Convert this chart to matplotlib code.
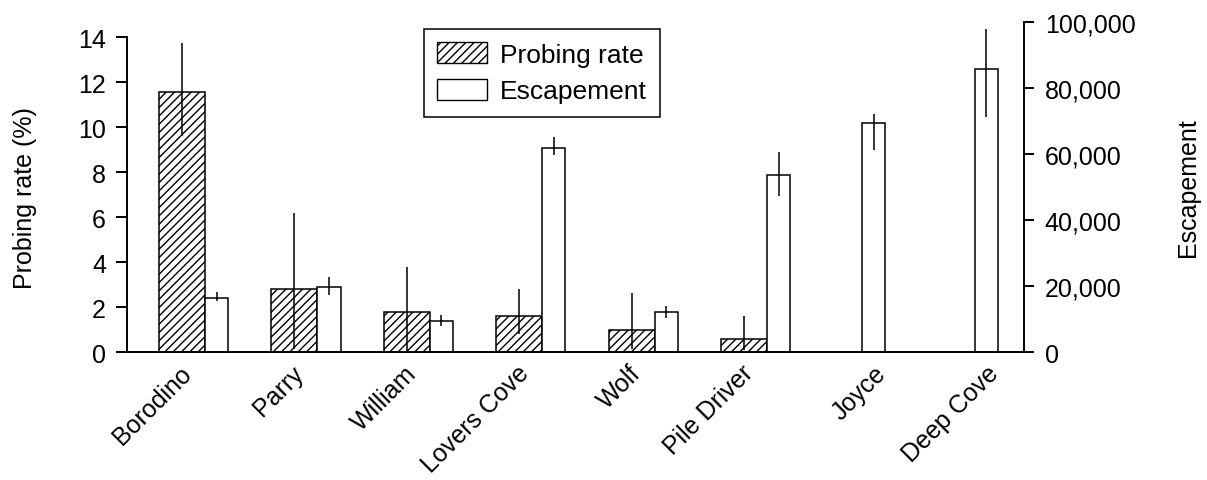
import numpy as np
import matplotlib
matplotlib.use('Agg')
import matplotlib.pyplot as plt
from matplotlib.patches import Patch
from matplotlib.ticker import FuncFormatter

plt.rcParams['font.family'] = ['Liberation Sans', 'DejaVu Sans']
plt.rcParams['hatch.linewidth'] = 1.0

# Data
sites = ['Borodino', 'Parry', 'William', 'Lovers Cove', 'Wolf',
         'Pile Driver', 'Joyce', 'Deep Cove']
probing = [11.55, 2.8, 1.8, 1.6, 1.0, 0.6, np.nan, np.nan]
probing_low = [9.6, 0.15, 0.07, 0.8, 0.15, 0.12, np.nan, np.nan]
probing_high = [13.75, 6.2, 3.8, 2.8, 2.65, 1.63, np.nan, np.nan]
escapement = [16400, 19700, 9600, 61800, 12100, 53600, 69400, 85700]
escapement_low = [15600, 17300, 7900, 59700, 10300, 47400, 61200, 71200]
escapement_high = [18200, 22900, 11400, 65000, 13900, 60700, 72100, 97800]


def plot_probing(sites, probing, p_lo, p_hi, esc, e_lo, e_hi):
    fig = plt.figure(figsize=(12.07, 4.81), dpi=100)
    ax = fig.add_axes([0.105, 0.2655, 0.7434, 0.6873])
    ax2 = ax.twinx()

    probing = np.array(probing, dtype=float)
    esc = np.array(esc, dtype=float)
    idx = np.arange(len(sites), dtype=float)
    has_p = ~np.isnan(probing)
    wp, we = 0.41, 0.205

    # Probing rate bars (hatched), left of the group centre
    xp = idx[has_p] - wp / 2
    ax.bar(xp, probing[has_p], width=wp, facecolor='white', edgecolor='black',
           hatch='////', linewidth=1.1, zorder=2)
    ax.errorbar(xp, probing[has_p],
                yerr=[probing[has_p] - np.array(p_lo)[has_p],
                      np.array(p_hi)[has_p] - probing[has_p]],
                fmt='none', ecolor='black', elinewidth=1.1, capsize=0, zorder=3)

    # Escapement bars (open)
    xe = np.where(has_p, idx + we / 2, idx - 0.05)
    ax2.bar(xe, esc, width=we, facecolor='white', edgecolor='black',
            linewidth=1.1, zorder=2)
    ax2.errorbar(xe, esc, yerr=[esc - np.array(e_lo), np.array(e_hi) - esc],
                 fmt='none', ecolor='black', elinewidth=1.1, capsize=0, zorder=3)

    # Axes limits and spines
    ax.set_xlim(-0.697, 7.286)
    ax.set_ylim(0, 14.69)
    ax2.set_ylim(0, 100000)
    for a in (ax, ax2):
        a.spines['top'].set_visible(False)
        for s in a.spines.values():
            s.set_linewidth(1.4)
    ax.spines['right'].set_visible(False)
    ax2.spines['left'].set_visible(False)
    ax.spines['left'].set_bounds(0, 14)

    ax.set_yticks(np.arange(0, 15, 2))
    ax2.set_yticks(np.arange(0, 100001, 20000))
    ax2.yaxis.set_major_formatter(FuncFormatter(lambda v, p: f'{v:,.0f}'))
    ax.tick_params(axis='y', labelsize=18, length=8, width=1.4, pad=7)
    ax2.tick_params(axis='y', labelsize=18, length=7, width=1.4, pad=8)

    # Category labels
    xt = np.where(has_p, idx - 0.23, xe)
    ax.set_xticks(xt)
    ax.set_xticklabels(sites, rotation=45, ha='right', va='top',
                       rotation_mode='anchor', fontsize=18)
    ax.tick_params(axis='x', length=0, pad=6)

    ax.set_ylabel('Probing rate (%)', fontsize=18)
    ax.yaxis.set_label_coords(-0.1, 0.47)
    ax2.set_ylabel('Escapement', fontsize=18, rotation=90)
    ax2.yaxis.set_label_coords(1.1694, 0.5)

    handles = [Patch(facecolor='white', edgecolor='black', hatch='////', label='Probing rate'),
               Patch(facecolor='white', edgecolor='black', label='Escapement')]
    leg = ax2.legend(handles=handles, loc='upper left', bbox_to_anchor=(0.331, 0.978),
                     fontsize=19, frameon=True, fancybox=False, framealpha=1,
                     edgecolor='black', borderpad=0.5, handlelength=1.9,
                     handleheight=0.85, handletextpad=0.5, labelspacing=0.45,
                     borderaxespad=0)
    leg.get_frame().set_linewidth(1.1)

    fig.savefig('out.png', dpi=100)


def main():
    plot_probing(sites, probing, probing_low, probing_high,
                 escapement, escapement_low, escapement_high)


if __name__ == "__main__":
    main()
